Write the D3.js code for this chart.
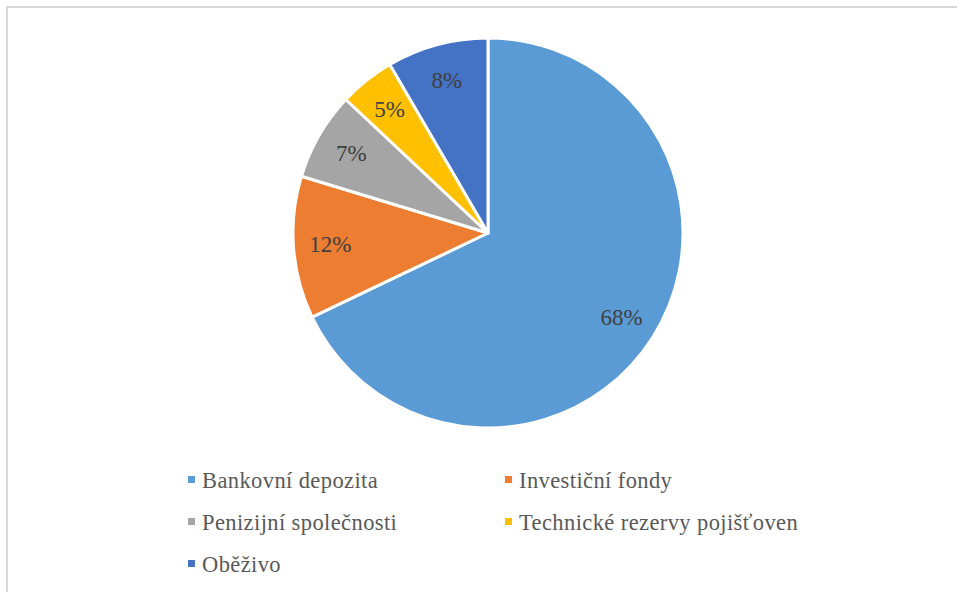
<!DOCTYPE html>
<html><head><meta charset="utf-8">
<script src="https://cdn.jsdelivr.net/npm/d3@7"></script>
<style>body{margin:0;background:#fff}svg{display:block}
text{font-family:"Times New Roman","Liberation Serif","DejaVu Serif",serif;}</style>
</head><body>
<svg id="c" width="957" height="592"></svg>
<script>
const categories = ["Bankovní depozita","Investiční fondy","Penizijní společnosti","Technické rezervy pojišťoven","Oběživo"];
const values = [67.9, 11.8, 7.3, 4.6, 8.4];
const colors = ["#5B9BD5","#ED7D31","#A5A5A5","#FFC000","#4472C4"];

const svg = d3.select("#c");
svg.append("rect").attr("x",7).attr("y",7).attr("width",960).attr("height",600)
  .attr("fill","#fff").attr("stroke","#D9D9D9").attr("stroke-width",2);

const cx = 488, cy = 233, R = 195;
const data = categories.map((c,i)=>({cat:c, value:values[i], color:colors[i]}));
const total = d3.sum(values);
const pie = d3.pie().value(d=>d.value).sort(null);
const arc = d3.arc().innerRadius(0).outerRadius(R);
const labelArc = d3.arc().innerRadius(158).outerRadius(158);
const g = svg.append("g").attr("transform",`translate(${cx},${cy})`);
const arcs = pie(data);
g.selectAll("path").data(arcs).join("path")
  .attr("d",arc).attr("fill",d=>d.data.color)
  .attr("stroke","#fff").attr("stroke-width",3).attr("stroke-linejoin","round");
const fmt = d3.format(".0%");
g.selectAll("text").data(arcs).join("text")
  .attr("transform",d=>`translate(${labelArc.centroid(d)})`)
  .attr("text-anchor","middle").attr("dominant-baseline","central")
  .attr("font-size",23).attr("fill","#404040")
  .text(d=>fmt(d.data.value/total));

// legend
const colX = [188, 505], rowY = [480, 522, 564];
const lg = svg.append("g");
data.forEach((d,i)=>{
  const x = colX[i%2], y = rowY[Math.floor(i/2)];
  lg.append("rect").attr("x",x).attr("y",y-4).attr("width",7).attr("height",7).attr("fill",d.color);
  lg.append("text").attr("x",x+14).attr("y",y).attr("dominant-baseline","central")
    .attr("font-size",22.5).attr("letter-spacing",0.4).attr("fill","#595959").text(d.cat);
});
</script>
</body></html>
